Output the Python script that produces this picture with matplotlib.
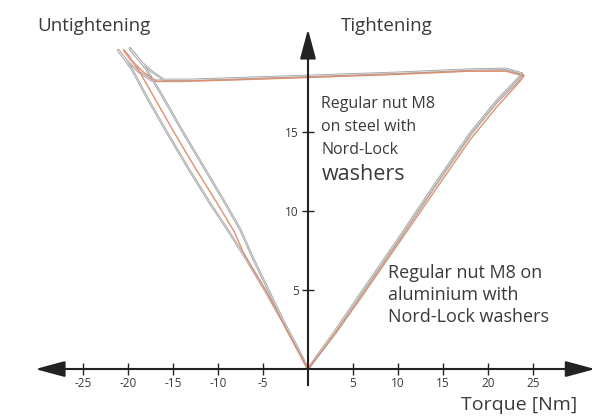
import matplotlib
matplotlib.use("Agg")
import matplotlib.pyplot as plt

# ---- data (torque [Nm], preload [kN]) ----
steel1_torque = [0, 3, 6, 10, 14, 18, 21, 23.3, 23.9, 22, 18, 10, 0, -8, -14, -17.3, -18.8, -20.1, -20.9,
                 -21.1, -20.7, -19.5, -17.9, -15.7, -13.3, -10.9, -8.8, -6.8, -4.7, -2.8, -1.3, 0]
steel1_load = [0, 2.3, 4.8, 8.1, 11.5, 14.8, 16.9, 18.2, 18.6, 18.9, 18.9, 18.7, 18.5, 18.35, 18.25, 18.25,
               18.8, 19.5, 20.0, 20.2, 19.9, 18.9, 17.2, 15.0, 12.7, 10.5, 8.7, 6.9, 4.9, 3.0, 1.4, 0]

steel2_torque = [0, 3, 6, 10, 14, 18, 21, 23.2, 23.8, 22, 18, 10, 0, -8, -13, -16.0, -17.3, -18.7, -19.6,
                 -19.8, -19.3, -18.0, -16.2, -13.9, -11.5, -9.2, -7.5, -6.1, -4.4, -2.7, -1.2, 0]
steel2_load = [0, 2.4, 4.9, 8.2, 11.6, 14.9, 17.0, 18.3, 18.7, 19.0, 18.95, 18.75, 18.55, 18.4, 18.3, 18.3,
               18.8, 19.5, 20.1, 20.3, 20.0, 19.0, 17.3, 15.0, 12.7, 10.5, 8.8, 7.0, 5.0, 3.0, 1.4, 0]

alu_torque = [0, 3, 6, 10, 14, 18, 21, 23.4, 24.0, 22, 18, 10, 0, -8, -14, -16.8, -18.2, -19.6, -20.3,
              -20.5, -20.0, -18.8, -17.1, -14.9, -12.5, -10.1, -8.2, -7.2, -6.6, -4.6, -2.8, -1.3, 0]
alu_load = [0, 2.2, 4.6, 7.9, 11.2, 14.5, 16.6, 18.1, 18.55, 18.85, 18.85, 18.65, 18.45, 18.3, 18.2, 18.2,
            18.75, 19.5, 20.0, 20.2, 19.9, 18.9, 17.2, 15.0, 12.7, 10.5, 8.7, 7.4, 6.8, 4.9, 2.95, 1.35, 0]

x_ticks = [-25, -20, -15, -10, -5, 5, 10, 15, 20, 25]
y_ticks = [5, 10, 15]

AXIS_COLOR = "#222222"
TEXT_COLOR = "#3a3a3a"
GREY = "#a3a3a3"
ORANGE = "#e08c6c"

plt.rcParams["font.family"] = ["Open Sans", "DejaVu Sans"]

fig = plt.figure(figsize=(5.95, 4.16), dpi=100)
ax = fig.add_axes([0, 0, 1, 1])
ax.set_xlim(-34.22, 31.89)
ax.set_ylim(-2.97, 23.35)

# curves: grey lines look hollow on the scan
for tq, ld in [(steel1_torque, steel1_load), (steel2_torque, steel2_load)]:
    ax.plot(tq, ld, color=GREY, lw=1.7, solid_joinstyle="round", zorder=2)
    ax.plot(tq, ld, color="#e8e8e8", lw=0.5, solid_joinstyle="round", zorder=2)
ax.plot(alu_torque, alu_load, color=ORANGE, lw=1.1, alpha=0.9, solid_joinstyle="round", zorder=3)

# axes through the origin
for side in ["top", "right"]:
    ax.spines[side].set_visible(False)
ax.spines["left"].set_position(("data", 0))
ax.spines["bottom"].set_position(("data", 0))
ax.spines["left"].set_bounds(-1.0, 20.0)
ax.spines["bottom"].set_bounds(-29.0, 30.0)
for side in ["left", "bottom"]:
    ax.spines[side].set_linewidth(1.5)
    ax.spines[side].set_color(AXIS_COLOR)
    ax.spines[side].set_zorder(4)

ax.set_xticks(x_ticks)
ax.set_xticklabels([str(v) for v in x_ticks])
ax.set_yticks(y_ticks)
ax.set_yticklabels([str(v) for v in y_ticks])
ax.tick_params(axis="x", direction="inout", length=8, width=1, color=AXIS_COLOR,
               labelsize=8.5, labelcolor=TEXT_COLOR, pad=2)
ax.tick_params(axis="y", direction="inout", length=9, width=1, color=AXIS_COLOR,
               labelsize=8.5, labelcolor=TEXT_COLOR, pad=2)

arrow = dict(arrowstyle="-|>,head_length=1.3,head_width=0.35", mutation_scale=14,
             lw=1.5, color=AXIS_COLOR, shrinkA=0, shrinkB=0)
ax.annotate("", xy=(-30.3, 0), xytext=(-28.5, 0), arrowprops=arrow, annotation_clip=False)
ax.annotate("", xy=(31.9, 0), xytext=(29.5, 0), arrowprops=arrow, annotation_clip=False)
ax.annotate("", xy=(0, 21.5), xytext=(0, 19.5), arrowprops=arrow, annotation_clip=False)

# texts
ax.text(-30.1, 21.7, "Untightening", fontsize=13.5, color=TEXT_COLOR, va="center")
ax.text(3.6, 21.7, "Tightening", fontsize=13.5, color=TEXT_COLOR, va="center")
ax.text(1.5, 16.8, "Regular nut M8", fontsize=11.5, color=TEXT_COLOR, va="center")
ax.text(1.5, 15.3, "on steel with", fontsize=11.5, color=TEXT_COLOR, va="center")
ax.text(1.5, 13.85, "Nord-Lock", fontsize=11.5, color=TEXT_COLOR, va="center")
ax.text(1.5, 12.3, "washers", fontsize=15.5, color=TEXT_COLOR, va="center")
ax.text(8.9, 6.1, "Regular nut M8 on", fontsize=13, color=TEXT_COLOR, va="center")
ax.text(8.9, 4.7, "aluminium with", fontsize=13, color=TEXT_COLOR, va="center")
ax.text(8.9, 3.3, "Nord-Lock washers", fontsize=13, color=TEXT_COLOR, va="center")
ax.text(29.9, -2.3, "Torque [Nm]", fontsize=14, color=TEXT_COLOR, va="center", ha="right")

fig.savefig("out.png", dpi=100)
